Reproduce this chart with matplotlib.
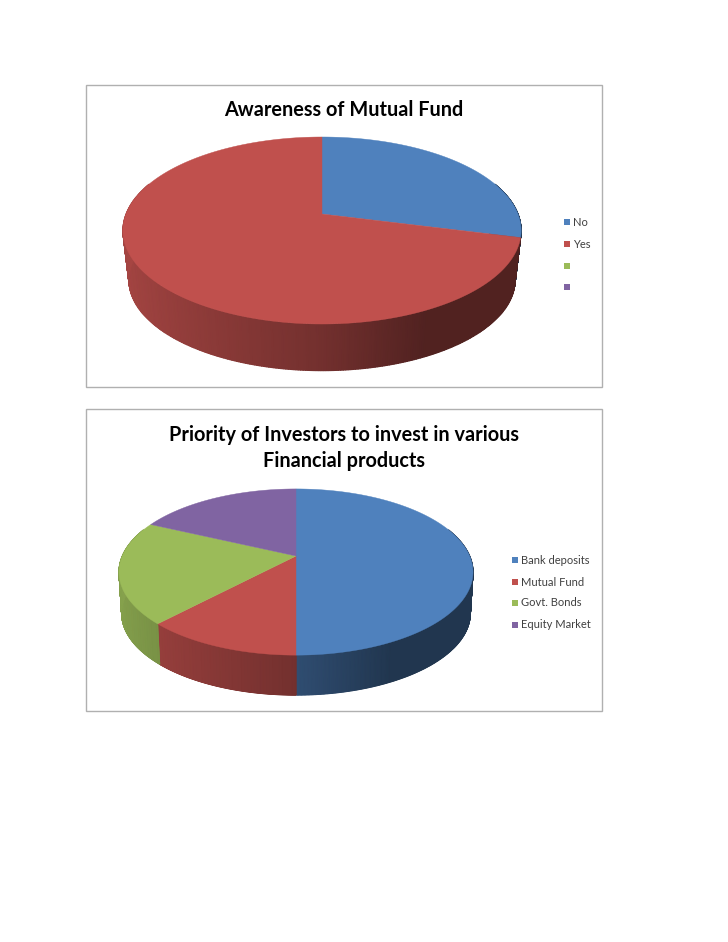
import numpy as np
import matplotlib
matplotlib.use('Agg')
import matplotlib.pyplot as plt
from matplotlib.colors import LinearSegmentedColormap, to_rgb
from matplotlib.patches import Rectangle

plt.rcParams['font.family'] = ['Lato', 'DejaVu Sans']

# Chart 1
awareness_labels = ['No', 'Yes', '', '']
awareness_values = [29, 71, 0, 0]
# Chart 2
priority_labels = ['Bank deposits', 'Mutual Fund', 'Govt. Bonds', 'Equity Market']
priority_values = [50, 12, 20, 18]

colors = ['#4F81BD', '#C0504D', '#9BBB59', '#8064A2']


def project(ang, g, lower=False):
    # ang is clockwise from the top of the pie, perspective tilt in g['b']
    X = np.sin(ang)
    Y = -np.cos(ang)
    w = 1 - g['b'] * Y
    sx = g['A'] * X / w
    sy = g['a'] * Y / w
    if lower:
        return g['cx'] + sx * g['shrink'], g['cy'] + sy * g['shrink'] + g['depth']
    return g['cx'] + sx, g['cy'] + sy


def shade(pos):
    # wall gets darker going from left to right
    return np.interp(pos, [-1, 0, 0.45, 1], [0.86, 0.60, 0.42, 0.42])


def draw_pie(ax, values, g):
    vals = np.array(values, dtype=float)
    edges = np.concatenate([[0], np.cumsum(vals) / vals.sum()]) * 2 * np.pi
    back = np.arccos(0.35)  # wall behind this angle is hidden by the top

    # side wall, smooth shading along the rim
    for i in range(len(vals)):
        if vals[i] == 0:
            continue
        a0 = max(edges[i], back)
        a1 = min(edges[i + 1], 2 * np.pi - back)
        if a1 <= a0:
            continue
        steps = np.linspace(a0, a1, 300)
        xt, yt = project(steps, g)
        xb, yb = project(steps, g, lower=True)
        cmap = LinearSegmentedColormap.from_list('wall', [(0, 0, 0), to_rgb(colors[i])])
        c = shade(np.sin(steps))
        ax.pcolormesh(np.vstack([xt, xb]), np.vstack([yt, yb]), np.vstack([c, c]),
                      shading='gouraud', cmap=cmap, vmin=0, vmax=1, zorder=2)

    # top surface
    for i in range(len(vals)):
        if vals[i] == 0:
            continue
        steps = np.linspace(edges[i], edges[i + 1], 200)
        x, y = project(steps, g)
        ax.fill(np.r_[g['cx'], x], np.r_[g['cy'], y], color=colors[i], lw=0.3, zorder=3)


def draw_legend(ax, labels, x_box, x_text, ys):
    for i in range(len(labels)):
        ax.plot(x_box, ys[i], 's', color=colors[i], ms=4.3, mew=0, zorder=4)
        ax.text(x_text, ys[i], labels[i], fontsize=8, color='#404040', va='center', ha='left')


fig = plt.figure(figsize=(7.28, 9.42), dpi=100)
ax = fig.add_axes([0, 0, 1, 1])
ax.axis('off')

ax.add_patch(Rectangle((86, 85), 515.5, 301.5, fc='white', ec='#b0b0b0', lw=1))
ax.add_patch(Rectangle((86, 409), 515.5, 301.5, fc='white', ec='#b0b0b0', lw=1))

geom1 = dict(cx=322, cy=214, A=196, a=90.6, b=0.1765, depth=50, shrink=0.97)
geom2 = dict(cx=296, cy=556, A=173.7, a=80, b=0.193, depth=41.5, shrink=0.985)

draw_pie(ax, awareness_values, geom1)
draw_pie(ax, priority_values, geom2)

ax.text(344, 110, 'Awareness of Mutual Fund', fontsize=14.3, fontweight='bold', ha='center', va='center', color='black')
ax.text(344, 435, 'Priority of Investors to invest in various', fontsize=14.3, fontweight='bold', ha='center', va='center', color='black')
ax.text(344, 461, 'Financial products', fontsize=14.3, fontweight='bold', ha='center', va='center', color='black')

draw_legend(ax, awareness_labels, 567, 573, [222, 244, 266, 287])
draw_legend(ax, priority_labels, 515, 521, [560, 582, 603, 625])

ax.set_xlim(0, 728)
ax.set_ylim(942, 0)

fig.savefig('out.png', dpi=100)
